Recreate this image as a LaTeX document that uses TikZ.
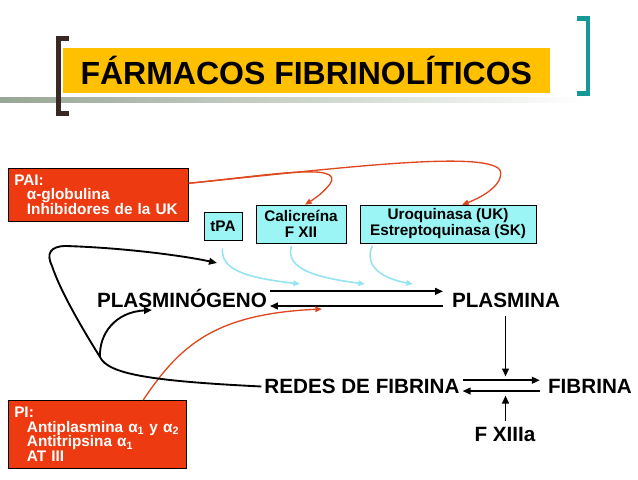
\documentclass[tikz,border=0pt]{standalone}
\usepackage{fontspec}
\setmainfont{Liberation Sans}
\usetikzlibrary{arrows.meta}

\definecolor{titleyellow}{RGB}{255,192,0}
\definecolor{inhred}{RGB}{238,58,16}
\definecolor{actcyan}{RGB}{155,245,245}
\definecolor{curvecyan}{RGB}{150,228,240}
\definecolor{curvered}{RGB}{222,72,30}
\definecolor{bracketdark}{RGB}{58,40,36}
\definecolor{bracketteal}{RGB}{22,152,150}
\definecolor{linegreen}{RGB}{150,166,148}

\begin{document}
\begin{tikzpicture}[x=0.75pt, y=-0.75pt,
  inhbox/.style={draw, fill=inhred, text=white, anchor=north west, align=left, inner xsep=4.5pt, font=\fontsize{11.5}{10.9}\selectfont\bfseries},
  actbox/.style={draw, fill=actcyan, align=center, inner sep=1pt, font=\fontsize{11.5}{12}\selectfont\bfseries},
  label/.style={inner sep=2pt, text height=11.1pt, text depth=0pt, font=\fontsize{15.5}{18}\selectfont\bfseries},
  arrow/.style={-{Triangle[length=6pt, width=5pt]}, line width=1.4pt},
  actarrow/.style={-{Triangle[length=5pt, width=4pt]}, line width=1.2pt, curvecyan},
  inharrow/.style={-{Triangle[length=5pt, width=4pt]}, line width=1pt, curvered}
]
\useasboundingbox (0,0) rectangle (638,479);

% Title band
\shade[left color=linegreen, right color=white] (0,97.5) rectangle (585,102.5);
\node[fill=titleyellow, minimum width=365pt, minimum height=33.5pt, font=\fontsize{24}{26}\selectfont\bfseries] (title) at (306.3,70.3) {FÁRMACOS FIBRINOLÍTICOS};
\draw[bracketdark, line width=3.6pt] (69,38.5) -- (58.5,38.5) -- (58.5,113.5) -- (69,113.5);
\draw[bracketteal, line width=3.6pt] (577,18.5) -- (588,18.5) -- (588,93.5) -- (577,93.5);

% Inhibitors
\node[inhbox, text width=126pt, minimum height=39.75pt] (pai) at (8,168) {PAI:\\\hspace*{9.5pt}α-globulina\\\hspace*{9.5pt}Inhibidores de la UK};
\node[inhbox, text width=124.5pt, minimum height=51pt] (pi) at (8,400) {PI:\\\hspace*{9.5pt}Antiplasmina α\textsubscript{1} y α\textsubscript{2}\\\hspace*{9.5pt}Antitripsina α\textsubscript{1}\\\hspace*{9.5pt}AT III};

% Activators
\node[actbox, minimum width=28.5pt, minimum height=21pt] (tpa) at (223,226) {tPA};
\node[actbox, minimum width=67.5pt, minimum height=28.5pt] (calicreina) at (301,224) {Calicreína\\F XII};
\node[actbox, minimum width=132pt, minimum height=28.5pt] (uroquinasa) at (448,224) {Uroquinasa (UK)\\Estreptoquinasa (SK)};

% Main reactions
\node[label] (plasminogeno) at (182,300) {PLASMINÓGENO};
\node[label] (plasmina) at (506,300) {PLASMINA};
\node[label] (redes) at (362,386.5) {REDES DE FIBRINA};
\node[label] (fibrina) at (590,386.5) {FIBRINA};
\node[label] (fxiii) at (505,434) {F XIIIa};

\draw[arrow] ([yshift=6.5pt]plasminogeno.east) -- ([xshift=-4.5pt, yshift=6.5pt]plasmina.west);
\draw[arrow] ([xshift=-4.5pt, yshift=-4.5pt]plasmina.west) -- ([yshift=-4.5pt]plasminogeno.east);
\draw[arrow] ([yshift=4.7pt]redes.east) -- ([xshift=-4pt, yshift=4.7pt]fibrina.west);
\draw[arrow] ([xshift=-4pt, yshift=-3.4pt]fibrina.west) -- ([yshift=-3.4pt]redes.east);

\coordinate (pdown) at (505.5,376.5);
\coordinate (fup) at (505.5,395.5);
\draw[arrow, shorten <=4pt] (plasmina.south -| pdown) -- (pdown);
\draw[arrow, shorten <=2pt] (fxiii.north -| fup) -- (fup);

% Activation curves
\coordinate (act1) at (300,284);
\coordinate (act2) at (365,284);
\coordinate (act3) at (413,284);
\draw[actarrow, shorten <=6pt] (tpa.south) .. controls (221,268) and (240,277) .. (act1);
\draw[actarrow, shorten <=2pt] ([xshift=-6.5pt]calicreina.south) .. controls (284,270) and (320,278) .. (act2);
\draw[actarrow, shorten <=2pt] ([xshift=-56pt]uroquinasa.south) .. controls (362,270) and (390,280) .. (act3);

% Inhibition curves
\draw[inharrow] ([yshift=8.6pt]pai.east) .. controls (270,175) and (345,162) .. (330,184) .. controls (322,194) and (314,199) .. ([xshift=3pt]calicreina.north);
\draw[inharrow] ([yshift=8.6pt]pai.east) .. controls (340,168) and (485,150) .. (500,170) .. controls (505,185) and (480,198) .. ([xshift=10.5pt]uroquinasa.north);
\coordinate (pitip) at (322,309);
\draw[inharrow] ([xshift=34.5pt]pi.north) .. controls (180,345) and (215,314) .. (pitip);

% Feedback loop
\coordinate (loopk) at (100,357);
\coordinate (looptip) at (217,263);
\coordinate (backtip) at (152,310);
\draw[arrow] (redes.west) .. controls (150,381) and (108,374) .. (loopk) .. controls (80,325) and (60,290) .. (52,266) .. controls (46,254) and (50,246) .. (66,246) .. controls (130,248) and (190,257) .. (looptip);
\draw[arrow] (loopk) .. controls (99,334) and (115,312) .. (backtip);

\end{tikzpicture}
\end{document}
